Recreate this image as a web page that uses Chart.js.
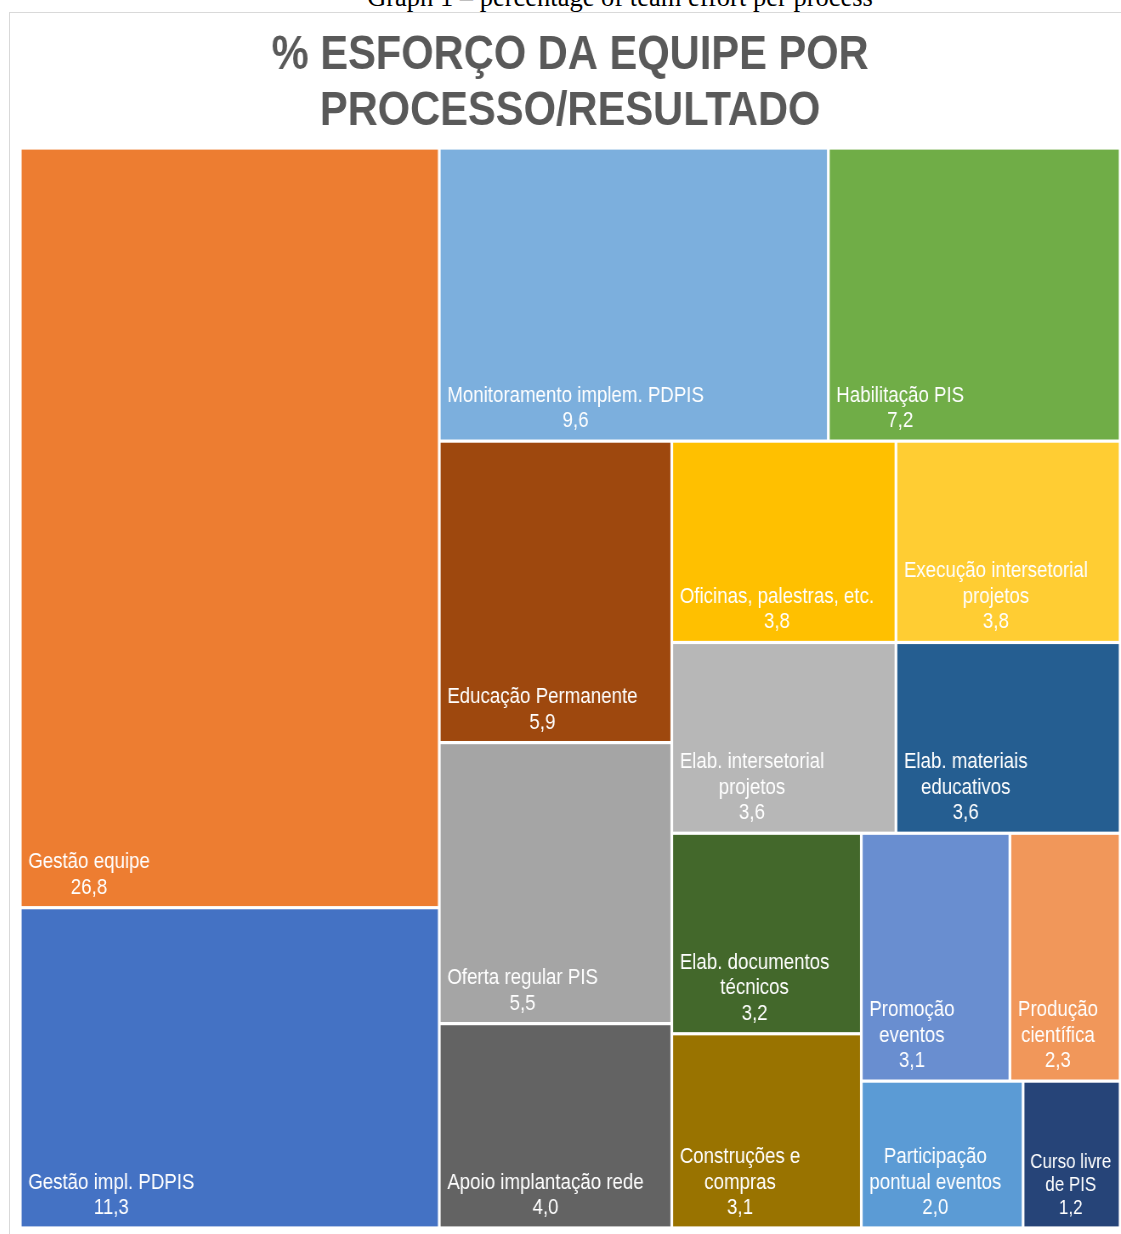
<!DOCTYPE html>
<html>
<head>
<meta charset="utf-8">
<script src="https://cdn.jsdelivr.net/npm/chart.js@4.4.1/dist/chart.umd.min.js"></script>
<style>
  html, body { margin: 0; padding: 0; background: #fff; overflow: hidden; width: 1121px; height: 1234px; }
  #caption { position: absolute; left: 0; top: -16px; width: 1240px; text-align: center;
             font: 26.5px "Liberation Serif", "Times New Roman", serif; line-height: 26px; color: #000; white-space: nowrap; }
  #frame { position: absolute; left: 9px; top: 12px; width: 1400px; height: 1300px;
           border-left: 1px solid #d9d9d9; border-top: 1px solid #d9d9d9; }
  /* the source chart was squeezed horizontally to fit the page */
  #box { position: absolute; left: 0; top: 0; width: 1318px; height: 1221px;
         transform: scaleX(0.85); transform-origin: 0 0; }
</style>
</head>
<body>
<div id="caption">Graph 1 – percentage of team effort per process</div>
<div id="frame"><div id="box"><canvas id="myChart"></canvas></div></div>
<script>
const labels = ['Gestão equipe', 'Gestão impl. PDPIS', 'Monitoramento implem. PDPIS', 'Habilitação PIS',
    'Educação Permanente', 'Oferta regular PIS', 'Apoio implantação rede', 'Oficinas, palestras, etc.',
    'Execução intersetorial projetos', 'Elab. intersetorial projetos', 'Elab. materiais educativos',
    'Elab. documentos técnicos', 'Construções e compras', 'Promoção eventos', 'Produção científica',
    'Participação pontual eventos', 'Curso livre de PIS'];
const values = [26.8, 11.3, 9.6, 7.2, 5.9, 5.5, 4.0, 3.8, 3.8, 3.6, 3.6, 3.2, 3.1, 3.1, 2.3, 2.0, 1.2];
const colors = ['#ED7D31', '#4472C4', '#7CAFDD', '#70AD47', '#9E480E', '#A5A5A5', '#636363', '#FFC000',
    '#FFCD33', '#B7B7B7', '#255E91', '#43682B', '#997300', '#698ED0', '#F1975A', '#5B9BD5', '#264478'];

// squarified treemap, rect in the same units as w/h
function squarify(vals, rx, ry, rw, rh) {
    let rest = vals.reduce((a, b) => a + b, 0);
    const out = [];
    let i = 0;
    while (i < vals.length) {
        const col = rw >= rh;
        const side = col ? rh : rw;
        const area = rw * rh;
        let j = i, sum = 0, best = Infinity;
        while (j < vals.length) {
            const s = sum + vals[j];
            const thick = area * s / rest / side;
            let worst = 0;
            for (let k = i; k <= j; k++) {
                const len = side * vals[k] / s;
                worst = Math.max(worst, thick / len, len / thick);
            }
            if (worst > best) break;
            best = worst;
            sum = s;
            j++;
        }
        const thick = area * sum / rest / side;
        let off = 0;
        for (let k = i; k < j; k++) {
            const len = side * vals[k] / sum;
            if (col) out.push({x0: rx, x1: rx + thick, y0: ry + off, y1: ry + off + len});
            else out.push({x0: rx + off, x1: rx + off + len, y0: ry, y1: ry + thick});
            off += len;
        }
        if (col) { rx += thick; rw -= thick; } else { ry += thick; rh -= thick; }
        rest -= sum;
        i = j;
    }
    return out;
}

function wrap(ctx, text, maxW) {
    const words = text.split(' ');
    const lines = [];
    let cur = '';
    words.forEach(w => {
        const t = cur ? cur + ' ' + w : w;
        if (cur && ctx.measureText(t).width > maxW) {
            lines.push(cur);
            cur = w;
        } else {
            cur = t;
        }
    });
    lines.push(cur);
    return lines;
}

const treemap = {
    id: 'treemap',
    beforeDatasetsDraw(chart) {
        const {ctx, chartArea, scales: {x, y}} = chart;
        const ds = chart.data.datasets[0];
        const aspect = chartArea.width / chartArea.height;
        const cells = squarify(ds.tree, 0, 0, aspect, 1);
        const gap = 1.6;
        ctx.save();
        cells.forEach((c, i) => {
            const px0 = x.getPixelForValue(c.x0 / aspect), px1 = x.getPixelForValue(c.x1 / aspect);
            const py0 = y.getPixelForValue(c.y0), py1 = y.getPixelForValue(c.y1);
            ctx.fillStyle = ds.colors[i];
            ctx.fillRect(px0 + gap, py0 + gap, px1 - px0 - 2 * gap, py1 - py0 - 2 * gap);

            const w = px1 - px0;
            const k = Math.min(1, w / 126);
            const fs = 22 * k, lh = 25.5 * k, pad = 9.4 * k;
            ctx.font = fs + 'px "Liberation Sans", Arial, sans-serif';
            ctx.fillStyle = '#ffffff';
            ctx.textAlign = 'center';
            ctx.textBaseline = 'alphabetic';
            const maxW = w - 2 * pad;
            const lines = wrap(ctx, ds.names[i], maxW);
            lines.push(ds.tree[i].toFixed(1).replace('.', ','));
            const bw = Math.min(maxW, Math.max(...lines.map(l => ctx.measureText(l).width)));
            const cx = px0 + pad + bw / 2;
            let by = py1 - 14 - (lines.length - 1) * lh;
            lines.forEach(l => {
                ctx.fillText(l, cx, by, maxW);
                by += lh;
            });
        });
        ctx.restore();
    }
};

const ctx = document.getElementById('myChart').getContext('2d');
const chart = new Chart(ctx, {
    type: 'scatter',
    data: {
        datasets: [{
            data: [],
            tree: values,
            names: labels,
            colors: colors,
        }]
    },
    options: {
        responsive: true,
        maintainAspectRatio: false,
        animation: false,
        layout: {padding: {left: 12, right: 12, top: 0, bottom: 6}},
        scales: {
            x: {display: false, min: 0, max: 1},
            y: {display: false, min: 0, max: 1, reverse: true},
        },
        plugins: {
            legend: {display: false},
            tooltip: {enabled: false},
            title: {
                display: true,
                text: ['% ESFORÇO DA EQUIPE POR', 'PROCESSO/RESULTADO'],
                color: '#595959',
                font: {family: '"Liberation Sans", Arial, sans-serif', size: 49, weight: 'bold', lineHeight: 1.15},
                padding: {top: 14, bottom: 8.3},
            },
        },
    },
    plugins: [treemap],
});
</script>
</body>
</html>
